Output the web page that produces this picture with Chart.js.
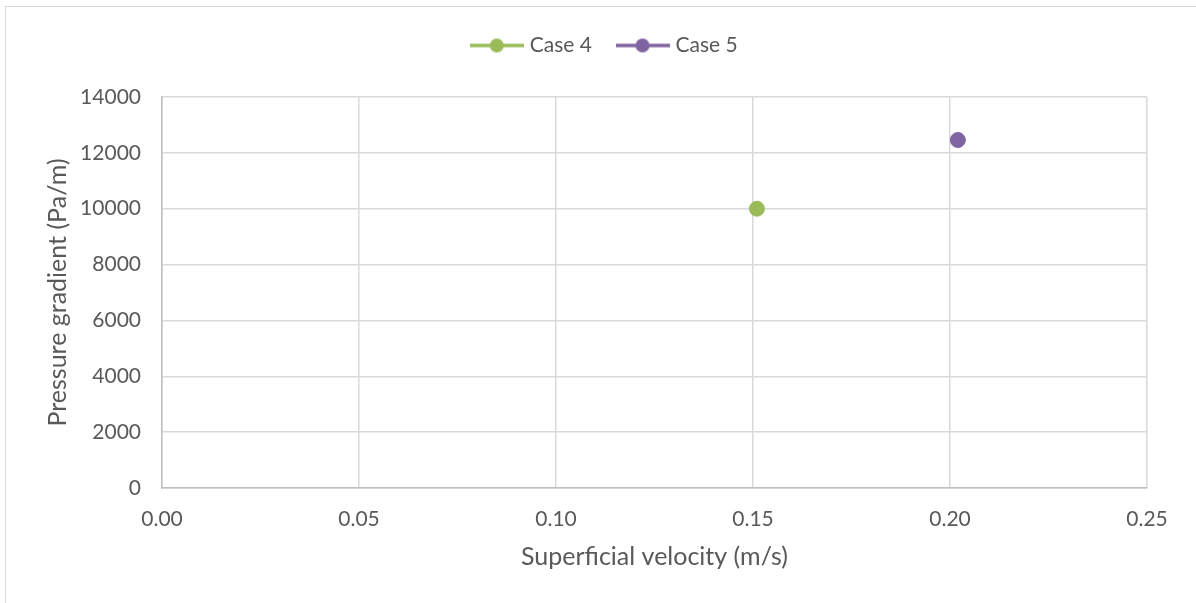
<!DOCTYPE html>
<html>
<head>
<meta charset="utf-8">
<script src="https://cdn.jsdelivr.net/npm/chart.js@4"></script>
<style>
  html, body { margin: 0; padding: 0; background: #fff; }
  body { width: 1196px; height: 603px; position: relative; overflow: hidden; }
  #frame { position: absolute; left: 5px; top: 6px; width: 1300px; height: 700px; border: 1.5px solid #d9d9d9; box-sizing: border-box; }
  #wrap { position: absolute; left: 0; top: 0; width: 1196px; height: 603px; }
</style>
</head>
<body>
<div id="frame"></div>
<div id="wrap"><canvas id="chart" width="1196" height="603"></canvas></div>
<script>
// Données
const seriesNames = ['Case 4', 'Case 5'];
const case4Velocity = [0.151];
const case4Gradient = [10000];
const case5Velocity = [0.202];
const case5Gradient = [12460];
const xTickValues = [0, 0.05, 0.10, 0.15, 0.20, 0.25];
const yTickValues = [0, 2000, 4000, 6000, 8000, 10000, 12000, 14000];

const colors = {
  case4: '#9bbb59',
  case5: '#8064a2',
  text: '#595959',
  grid: '#d9d9d9',
  axis: '#bfbfbf'
};

const FONT = "Lato, 'Open Sans', sans-serif";

// Icône de légende : trait + marqueur rond (style Excel)
function legendIcon(color) {
  const c = document.createElement('canvas');
  c.width = 54;
  c.height = 16;
  const ctx = c.getContext('2d');
  ctx.strokeStyle = color;
  ctx.lineWidth = 3.5;
  ctx.beginPath();
  ctx.moveTo(0, 8);
  ctx.lineTo(54, 8);
  ctx.stroke();
  ctx.fillStyle = color;
  ctx.beginPath();
  ctx.arc(27, 8, 7, 0, Math.PI * 2);
  ctx.fill();
  return c;
}

function toPoints(xs, ys) {
  return xs.map((x, i) => ({ x: x, y: ys[i] }));
}

// Réserve de l'espace sous la légende et la recentre comme dans Excel
const legendSpacer = {
  id: 'legendSpacer',
  beforeInit(chart) {
    const legend = chart.legend;
    if (!legend) return;
    const fit = legend.fit;
    legend.fit = function() {
      fit.call(this);
      this.height = 90;
    };
    const draw = legend.draw;
    legend.draw = function() {
      const ctx = this.ctx;
      ctx.save();
      ctx.translate(13, 0);
      draw.apply(this, arguments);
      ctx.restore();
    };
  }
};

const canvas = document.getElementById('chart');

new Chart(canvas, {
  type: 'scatter',
  data: {
    datasets: [
      {
        label: seriesNames[0],
        data: toPoints(case4Velocity, case4Gradient),
        backgroundColor: colors.case4,
        borderColor: colors.case4,
        pointRadius: 7.5,
        pointHoverRadius: 7.5,
        pointStyle: 'circle',
        legendIcon: legendIcon(colors.case4)
      },
      {
        label: seriesNames[1],
        data: toPoints(case5Velocity, case5Gradient),
        backgroundColor: colors.case5,
        borderColor: colors.case5,
        pointRadius: 7.5,
        pointHoverRadius: 7.5,
        pointStyle: 'circle',
        legendIcon: legendIcon(colors.case5)
      }
    ]
  },
  plugins: [legendSpacer],
  options: {
    responsive: false,
    animation: false,
    layout: {
      padding: { left: 39, right: 49, top: 7, bottom: 27 }
    },
    plugins: {
      tooltip: { enabled: false },
      legend: {
        position: 'top',
        labels: {
          usePointStyle: true,
          pointStyleWidth: 45,
          boxHeight: 16,
          padding: 28,
          color: colors.text,
          font: { family: FONT, size: 21 },
          generateLabels: function(chart) {
            return chart.data.datasets.map((ds, i) => ({
              text: ds.label,
              pointStyle: ds.legendIcon,
              fillStyle: ds.backgroundColor,
              strokeStyle: ds.borderColor,
              lineWidth: 0,
              fontColor: colors.text,
              hidden: false,
              datasetIndex: i
            }));
          }
        }
      }
    },
    scales: {
      x: {
        type: 'linear',
        min: 0,
        max: 0.25,
        afterBuildTicks: function(scale) {
          scale.ticks = xTickValues.map(v => ({ value: v }));
        },
        afterFit: function(scale) {
          scale.height = 88;
        },
        ticks: {
          color: colors.text,
          font: { family: FONT, size: 21 },
          padding: 19,
          callback: function(value) {
            return value.toFixed(2);
          }
        },
        grid: {
          color: colors.grid,
          lineWidth: 1.5,
          drawTicks: false
        },
        border: { display: true, color: colors.axis, width: 1.5 },
        title: {
          display: true,
          text: 'Superficial velocity (m/s)',
          color: colors.text,
          font: { family: FONT, size: 25 },
          padding: { top: 4, bottom: 4 }
        }
      },
      y: {
        type: 'linear',
        min: 0,
        max: 14000,
        afterBuildTicks: function(scale) {
          scale.ticks = yTickValues.map(v => ({ value: v }));
        },
        afterFit: function(scale) {
          scale.width = 123;
        },
        ticks: {
          color: colors.text,
          font: { family: FONT, size: 21 },
          padding: 21,
          callback: function(value) {
            return String(value);
          }
        },
        grid: {
          color: colors.grid,
          lineWidth: 1.5,
          drawTicks: false
        },
        border: { display: true, color: colors.axis, width: 1.5 },
        title: {
          display: true,
          text: 'Pressure gradient (Pa/m)',
          color: colors.text,
          font: { family: FONT, size: 25 },
          padding: { top: 4, bottom: 4 }
        }
      }
    }
  }
});
</script>
</body>
</html>
